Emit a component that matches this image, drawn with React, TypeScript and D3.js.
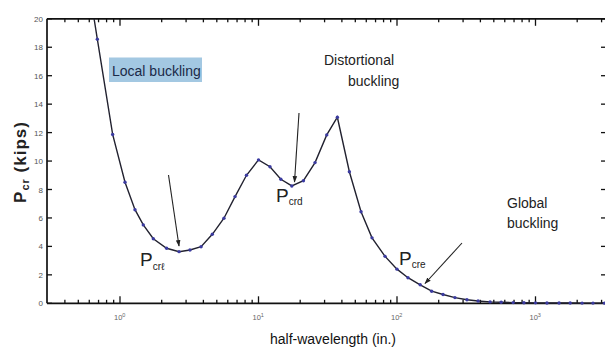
import React from "react";
import * as d3 from "d3";

// half-wavelength (in.) and critical load Pcr (kips)
const halfWavelength = [0.57, 0.686, 0.885, 1.087, 1.283, 1.473, 1.74, 2.17, 2.67, 3.2, 3.85, 4.64, 5.63, 6.77, 8.19, 10, 12.1, 14.5, 17.4, 21.1, 25.6, 31.1, 37.1, 45.3, 55, 66, 82, 100, 120, 147, 178, 215, 262, 320, 385, 470, 565, 690, 825, 1000, 1210, 1480, 1780, 2170, 2600, 3150];
const pcr = [23.5, 18.57, 11.87, 8.51, 6.58, 5.51, 4.54, 3.87, 3.63, 3.75, 3.98, 4.85, 5.98, 7.5, 9.0, 10.08, 9.6, 8.72, 8.25, 8.62, 9.89, 11.84, 13.08, 9.25, 6.44, 4.6, 3.3, 2.4, 1.8, 1.3, 0.85, 0.62, 0.4, 0.25, 0.16, 0.1, 0.07, 0.05, 0.04, 0.03, 0.025, 0.02, 0.02, 0.015, 0.015, 0.01];

const yTicks = [0, 2, 4, 6, 8, 10, 12, 14, 16, 18, 20];
const xDecades = [1, 10, 100, 1000];
const xDecadeExp = ["0", "1", "2", "3"];

const W = 605;
const H = 349;

export default function App() {
  const x = d3.scaleLog().domain([1, 1000]).range([120, 535.5]);
  const y = d3.scaleLinear().domain([0, 20]).range([303.3, 18.8]);
  const left = 47;
  const right = 606;
  const top = y(20);
  const bottom = y(0);

  const minor: number[] = [];
  [0.1, 1, 10, 100, 1000].forEach((d) => {
    for (let m = 2; m <= 9; m++) {
      const v = d * m;
      const px = x(v);
      if (px > left + 1 && px < right - 1) minor.push(v);
    }
  });

  const pts = halfWavelength.map((h, i) => [h, pcr[i]] as [number, number]);
  const line = d3
    .line<[number, number]>()
    .x((d) => x(d[0]))
    .y((d) => y(d[1]));

  const font = "'Liberation Sans', Arial, sans-serif";
  const tickCol = "#111";

  return (
    <svg
      width={W}
      height={H}
      style={{ position: "absolute", left: 0, top: 0, display: "block", background: "#fff" }}
    >
      <defs>
        <clipPath id="plot">
          <rect x={left} y={top} width={right - left} height={bottom - top + 3} />
        </clipPath>
        <marker id="ah" viewBox="0 0 10 10" refX="9" refY="5" markerWidth="6" markerHeight="6" orient="auto">
          <path d="M0,1.5 L10,5 L0,8.5 z" fill="#222" />
        </marker>
      </defs>

      {/* frame */}
      <g stroke={tickCol} strokeWidth={1.7} fill="none">
        <line x1={left} y1={top} x2={right} y2={top} />
        <line x1={left} y1={bottom} x2={right} y2={bottom} />
        <line x1={left} y1={top} x2={left} y2={bottom} />
        <line x1={right} y1={top} x2={right} y2={bottom} />
      </g>

      {/* x ticks */}
      <g stroke={tickCol} strokeWidth={1.3}>
        {xDecades.map((d) => (
          <g key={"M" + d}>
            <line x1={x(d)} x2={x(d)} y1={bottom} y2={bottom - 7} />
            <line x1={x(d)} x2={x(d)} y1={top} y2={top + 7} />
          </g>
        ))}
        {minor.map((d) => (
          <g key={"m" + d}>
            <line x1={x(d)} x2={x(d)} y1={bottom} y2={bottom - 3.5} />
            <line x1={x(d)} x2={x(d)} y1={top} y2={top + 3.5} />
          </g>
        ))}
      </g>

      {/* y ticks */}
      <g stroke={tickCol} strokeWidth={1.3}>
        {yTicks.map((t) => (
          <g key={"y" + t}>
            <line x1={left} x2={left + 5} y1={y(t)} y2={y(t)} />
            <line x1={right} x2={right - 5} y1={y(t)} y2={y(t)} />
          </g>
        ))}
      </g>

      {/* y tick labels */}
      <g fontFamily={font} fontSize={8} fill="#555" textAnchor="end">
        {yTicks.map((t) => (
          <text key={"yl" + t} x={43} y={y(t) + 3}>
            {t}
          </text>
        ))}
      </g>

      {/* x tick labels */}
      <g fontFamily={font} fontSize={7.5} fill="#666">
        {xDecades.map((d, i) => (
          <text key={"xl" + d} x={x(d) - 6} y={320}>
            10
            <tspan fontSize={5.5} dy={-3}>
              {xDecadeExp[i]}
            </tspan>
          </text>
        ))}
      </g>

      {/* curve */}
      <g clipPath="url(#plot)">
        <path d={line(pts) || ""} fill="none" stroke="#222230" strokeWidth={1.4} />
        {pts.map((p, i) => (
          <circle key={"p" + i} cx={x(p[0])} cy={y(p[1])} r={1.7} fill="#3b3ba0" />
        ))}
      </g>

      {/* Local buckling label */}
      <rect x={109} y={57.5} width={93} height={24.5} fill="#a3c8e2" />
      <text x={112} y={75.5} fontFamily={font} fontSize={14} fill="#1b2a48">
        Local buckling
      </text>

      {/* Distortional buckling */}
      <text fontFamily={font} fontSize={14} fill="#222">
        <tspan x={324} y={65}>Distortional</tspan>
        <tspan x={348} y={86}>buckling</tspan>
      </text>

      {/* Global buckling */}
      <text fontFamily={font} fontSize={14} fill="#222">
        <tspan x={507} y={208}>Global</tspan>
        <tspan x={507} y={228}>buckling</tspan>
      </text>

      {/* arrows */}
      <g stroke="#222" strokeWidth={1.1} markerEnd="url(#ah)">
        <line x1={168.5} y1={175} x2={179} y2={246} />
        <line x1={299} y1={113} x2={294.5} y2={182} />
        <line x1={462} y1={243} x2={425} y2={283.5} />
      </g>

      {/* P labels */}
      <g fontFamily={font} fill="#222">
        <text x={140} y={266} fontSize={19}>
          P<tspan fontSize={10} dy={4}>crℓ</tspan>
        </text>
        <text x={276} y={201.5} fontSize={19}>
          P<tspan fontSize={10} dy={3.5}>crd</tspan>
        </text>
        <text x={399} y={265} fontSize={19}>
          P<tspan fontSize={10} dy={3}>cre</tspan>
        </text>
      </g>

      {/* axis titles */}
      <text
        transform={`translate(26,162) rotate(-90)`}
        textAnchor="middle"
        fontFamily={font}
        fontSize={17}
        fontWeight="bold"
        letterSpacing={1}
        fill="#222"
      >
        P<tspan fontSize={11} dy={3}>cr</tspan>
        <tspan dy={-3}> (kips)</tspan>
      </text>
      <text x={333} y={344} textAnchor="middle" fontFamily={font} fontSize={14} fill="#111">
        half-wavelength (in.)
      </text>
    </svg>
  );
}
